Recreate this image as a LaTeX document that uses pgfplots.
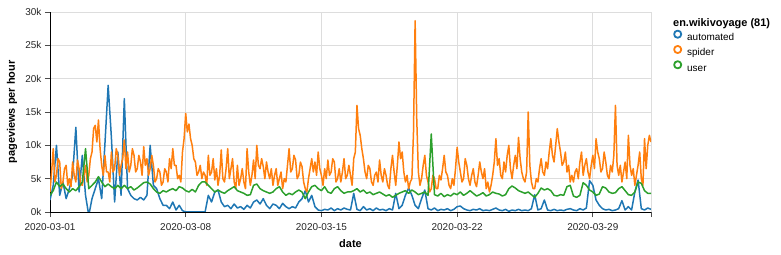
\documentclass[border=0pt]{standalone}
\usepackage{pgfplots}
\pgfplotsset{compat=1.18}
\usepackage{pgfplotstable}
\usepackage{fontspec}
\setmainfont{Liberation Sans}
\definecolor{cblue}{HTML}{1F77B4}
\definecolor{corange}{HTML}{FF7F0E}
\definecolor{cgreen}{HTML}{2CA02C}
\definecolor{cgrid}{HTML}{DDDDDD}
% automated: thousands of pageviews, one value every 4 hours from 2020-03-01 00:00
\pgfplotstableread[row sep=\\]{v\\
1.8\\4.0\\10.0\\2.5\\4.5\\2.0\\
3.5\\5.5\\12.7\\3.0\\8.5\\2.5\\
-0.5\\2.0\\3.5\\5.0\\2.0\\10.2\\
19.0\\11.2\\1.5\\9.0\\2.5\\17.0\\
3.5\\2.5\\2.0\\1.8\\2.2\\1.8\\
2.5\\10.0\\4.0\\3.5\\2.0\\1.0\\
1.0\\0.5\\1.5\\0.3\\1.0\\0.2\\
0\\0\\0\\0\\0\\0\\
0\\2.5\\1.5\\3.0\\3.3\\1.5\\
0.8\\1.0\\0.5\\1.2\\0.6\\0.8\\
0.4\\1.0\\0.6\\1.5\\1.8\\1.2\\
2.0\\1.0\\0.5\\1.2\\1.0\\0.5\\
1.3\\0.8\\0.5\\0.8\\0.6\\1.5\\
2.0\\3.2\\1.5\\2.5\\0.8\\0.3\\
0.2\\0.4\\0.3\\0.6\\0.2\\0.5\\
0.3\\0.6\\0.4\\0.3\\2.8\\0.4\\
0.2\\0.8\\0.3\\0.5\\0.2\\0.6\\
0.3\\0.4\\0.2\\0.5\\0.3\\2.8\\
0.5\\1.0\\2.5\\3.6\\2.5\\1.0\\
0.5\\2.0\\3.3\\0.5\\0.3\\0.6\\
0.2\\0.4\\0.3\\0.5\\0.2\\0.4\\
0.8\\0.9\\0.5\\0.3\\0.2\\0.4\\
0.3\\0.5\\0.2\\0.3\\0.2\\0.4\\
0.6\\0.3\\0.2\\0.4\\0.1\\0.3\\
0.2\\0.4\\0.2\\0.3\\0.2\\0.5\\
2.6\\0.3\\0.5\\1.8\\0.3\\0.2\\
0.4\\0.2\\0.3\\0.2\\0.4\\0.5\\
0.3\\0.2\\0.5\\0.3\\0.6\\4.7\\
4.0\\1.8\\1.0\\0.5\\0.3\\0.4\\
0.2\\0.3\\0.5\\1.7\\0.3\\0.8\\
0.3\\3.0\\4.8\\0.5\\0.3\\0.6\\
0.4\\
}\tabB
% spider: thousands of pageviews, one value every 2 hours from 2020-03-01 00:00
\pgfplotstableread[row sep=\\]{v\\
3.0\\6.0\\9.5\\4.5\\5.5\\8.0\\7.5\\3.5\\4.5\\6.5\\7.0\\4.0\\
5.0\\3.8\\7.5\\5.5\\4.5\\7.8\\6.5\\4.2\\4.0\\5.5\\7.0\\4.5\\
5.5\\8.0\\9.0\\12.5\\13.0\\10.5\\13.8\\9.5\\7.0\\5.5\\8.5\\6.0\\
6.0\\4.5\\9.0\\6.0\\6.5\\9.5\\8.5\\5.5\\7.0\\8.0\\10.8\\6.5\\
9.0\\6.0\\7.0\\9.5\\8.5\\6.0\\6.5\\8.5\\7.5\\5.5\\9.8\\7.0\\
8.0\\5.5\\6.5\\8.5\\7.0\\4.5\\5.0\\6.5\\6.0\\4.0\\4.5\\6.5\\
6.0\\4.5\\8.0\\6.5\\9.5\\7.0\\7.0\\5.0\\5.5\\4.5\\9.0\\11.0\\
14.8\\12.0\\13.2\\11.0\\10.0\\8.0\\7.5\\5.5\\6.0\\7.0\\5.0\\6.0\\
5.5\\4.0\\8.5\\5.5\\6.0\\8.0\\4.8\\6.5\\4.0\\5.5\\9.3\\5.0\\
4.5\\6.5\\9.5\\5.0\\6.5\\8.0\\4.5\\3.5\\7.0\\4.0\\5.0\\6.5\\
4.5\\3.5\\9.5\\6.0\\4.0\\5.5\\7.8\\5.0\\10.0\\7.0\\6.5\\8.0\\
6.8\\5.0\\7.5\\6.0\\5.0\\6.5\\4.0\\5.5\\6.5\\4.0\\5.0\\6.0\\
3.5\\5.0\\4.5\\7.0\\9.5\\6.0\\6.5\\8.5\\7.8\\5.0\\5.5\\7.5\\
6.8\\4.5\\3.5\\3.0\\5.0\\6.5\\8.0\\6.0\\7.5\\5.5\\9.0\\6.5\\
5.5\\4.0\\6.5\\5.0\\7.8\\5.5\\6.0\\8.0\\7.5\\4.5\\5.0\\6.5\\
4.5\\6.0\\8.0\\5.0\\5.5\\7.0\\5.5\\4.0\\8.0\\9.0\\16.0\\12.5\\
11.5\\9.5\\8.0\\6.0\\5.0\\7.0\\6.5\\4.5\\4.0\\5.5\\6.0\\4.5\\
7.8\\5.5\\4.5\\6.5\\5.5\\4.0\\3.5\\6.5\\8.5\\6.0\\4.0\\7.0\\
10.5\\8.0\\9.0\\6.0\\4.5\\5.5\\3.5\\4.5\\5.0\\12.0\\28.7\\14.0\\
6.0\\4.0\\5.0\\7.0\\8.5\\5.5\\4.5\\3.0\\3.5\\5.5\\5.0\\3.5\\
3.5\\5.5\\4.8\\6.5\\8.5\\6.0\\5.5\\4.0\\3.5\\5.0\\4.0\\6.5\\
9.7\\7.5\\6.0\\4.5\\5.0\\8.0\\7.0\\5.0\\4.0\\5.5\\6.5\\4.5\\
3.8\\5.5\\7.5\\6.0\\5.0\\6.5\\3.5\\4.5\\3.0\\4.0\\5.5\\7.5\\
11.0\\7.0\\8.0\\5.5\\5.0\\7.5\\6.0\\8.5\\10.0\\6.5\\5.0\\7.0\\
8.5\\6.5\\11.2\\8.0\\6.0\\5.0\\4.5\\6.0\\15.0\\7.0\\4.5\\3.5\\
3.5\\5.0\\4.5\\6.5\\8.0\\6.0\\5.5\\7.5\\6.5\\9.0\\11.0\\8.5\\
7.5\\10.0\\12.5\\10.5\\9.0\\7.0\\7.5\\9.0\\6.0\\7.0\\4.5\\5.5\\
4.5\\6.0\\6.5\\5.0\\7.5\\9.0\\5.5\\7.0\\8.0\\6.0\\5.0\\7.0\\
8.5\\6.5\\11.0\\9.0\\8.0\\6.0\\6.5\\9.0\\7.5\\5.5\\5.0\\7.0\\
6.0\\8.5\\16.0\\7.0\\5.5\\7.0\\4.5\\6.0\\7.5\\5.0\\11.5\\7.0\\
5.5\\6.5\\4.0\\5.5\\7.0\\9.0\\5.0\\4.0\\11.0\\6.5\\10.0\\11.5\\
10.5\\
}\tabO
% user: thousands of pageviews, one value every 4 hours from 2020-03-01 00:00
\pgfplotstableread[row sep=\\]{v\\
2.5\\3.2\\4.5\\3.8\\4.2\\3.5\\
3.0\\3.5\\3.2\\3.8\\4.5\\9.5\\
3.5\\4.0\\4.5\\5.3\\4.5\\3.8\\
4.2\\3.8\\3.5\\4.0\\3.5\\4.0\\
3.5\\3.8\\3.3\\3.6\\4.0\\4.4\\
4.5\\4.2\\3.5\\3.0\\2.8\\3.2\\
3.0\\3.3\\3.5\\3.2\\3.8\\3.6\\
3.2\\3.0\\3.4\\3.0\\4.0\\4.5\\
4.5\\4.0\\3.5\\3.0\\3.3\\3.0\\
2.8\\3.2\\3.5\\3.8\\3.2\\3.0\\
2.8\\2.5\\2.6\\4.0\\4.2\\3.5\\
3.2\\3.0\\2.8\\3.0\\3.5\\3.8\\
3.0\\2.5\\2.8\\2.6\\3.0\\3.3\\
3.0\\2.0\\3.0\\3.8\\4.0\\3.5\\
3.2\\3.8\\3.0\\2.8\\3.5\\3.8\\
3.2\\2.8\\3.0\\3.0\\3.2\\3.5\\
3.0\\3.3\\2.8\\3.0\\2.6\\2.8\\
3.0\\2.7\\2.4\\2.6\\2.2\\2.5\\
2.8\\3.0\\3.2\\2.8\\3.3\\3.0\\
2.6\\2.8\\3.0\\2.5\\11.7\\2.6\\
2.4\\2.8\\2.3\\2.6\\2.4\\2.8\\
2.6\\3.0\\2.5\\2.8\\3.2\\2.8\\
2.4\\2.6\\2.9\\2.4\\2.6\\3.0\\
2.8\\2.7\\2.4\\2.6\\3.5\\3.9\\
3.6\\3.2\\3.0\\2.8\\3.0\\2.6\\
2.2\\2.8\\3.6\\3.3\\3.5\\3.2\\
2.5\\2.4\\2.6\\2.5\\3.8\\4.0\\
2.4\\2.2\\2.5\\4.4\\4.0\\3.3\\
3.0\\2.5\\2.7\\3.8\\3.6\\3.0\\
2.8\\2.9\\3.5\\3.8\\3.2\\2.6\\
2.5\\3.0\\4.5\\4.3\\3.2\\2.8\\
2.8\\
}\tabG
\begin{document}
\begin{tikzpicture}
\path[use as bounding box] (0,0) rectangle (781bp,255bp);
\begin{axis}[
  at={(50bp,43bp)}, anchor=south west,
  width=601bp, height=200bp, scale only axis,
  xmin=0, xmax=31, ymin=0, ymax=30,
  axis x line*=bottom, axis y line*=left,
  axis line style={-, black, line width=0.8bp},
  xtick={0,7,14,21,28,31},
  xticklabels={2020-03-01,2020-03-08,2020-03-15,2020-03-22,2020-03-29,{}},
  ytick={0,5,10,15,20,25,30},
  yticklabels={0k,5k,10k,15k,20k,25k,30k},
  grid=major,
  major grid style={cgrid, line width=0.8bp},
  tick align=outside, major tick length=5bp,
  tick style={black!70, line width=0.8bp},
  tick label style={font=\fontsize{10}{12}\selectfont, text=black!85},
  xticklabel style={yshift=-3bp},
  xlabel={date}, ylabel={pageviews per hour},
  label style={font=\bfseries\fontsize{11}{13}\selectfont},
  x label style={at={(axis description cs:0.5,0)}, anchor=base, yshift=-35bp},
  y label style={at={(axis description cs:0,0.5)}, anchor=center, yshift=38bp},
  clip mode=individual,
  legend cell align=left,
  legend style={draw=none, fill=none, at={(axis description cs:1,1)}, anchor=north west,
    xshift=22bp, yshift=-17.5bp, font=\fontsize{10}{12}\selectfont,
    row sep=3bp, column sep=5bp, inner sep=0pt,
    nodes={inner sep=0pt, text height=7.5bp, text depth=1.5bp}},
  legend image code/.code={\draw[#1, line width=1.8bp, fill=white] (3.8bp,0.33em) circle (3.6bp);},
]
\addplot[cblue, line width=1.5bp, line join=round] table[x expr=\coordindex/6, y=v] {\tabB};
\addlegendentry{automated}
\addplot[corange, line width=1.5bp, line join=round] table[x expr=\coordindex/12, y=v] {\tabO};
\addlegendentry{spider}
\addplot[cgreen, line width=1.5bp, line join=round] table[x expr=\coordindex/6, y=v] {\tabG};
\addlegendentry{user}
\node[anchor=base west, font=\bfseries\fontsize{11}{13}\selectfont, inner sep=0pt]
  at (axis description cs:1,1) [xshift=22bp, yshift=-14bp] {en.wikivoyage (81)};
\end{axis}
\end{tikzpicture}
\end{document}
